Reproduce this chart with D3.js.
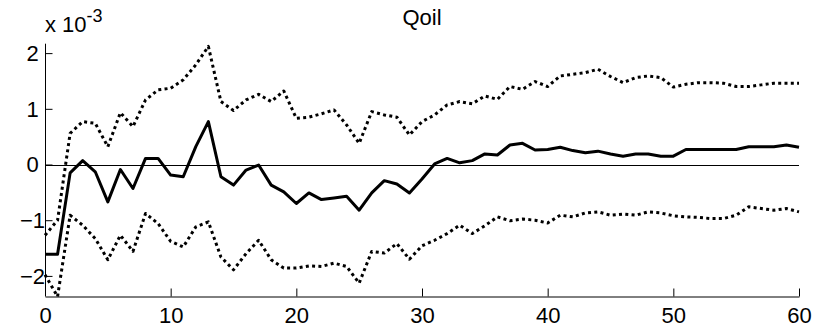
<!DOCTYPE html>
<html>
<head>
<meta charset="utf-8">
<script src="https://cdn.jsdelivr.net/npm/d3@7"></script>
<style>
  html, body { margin: 0; padding: 0; background: #fff; }
  svg { display: block; font-family: Arial, "Liberation Sans", sans-serif; }
</style>
</head>
<body>
<svg id="chart" width="825" height="329"></svg>
<script>
// Horizon (periods)
const periods = d3.range(0, 61);
// Median response, in units of 10^-3
const median = [-1.61, -1.61, -0.15, 0.07, -0.13, -0.67, -0.09, -0.43, 0.11, 0.11,
  -0.19, -0.22, 0.32, 0.77, -0.22, -0.37, -0.10, -0.01, -0.37, -0.49,
  -0.70, -0.51, -0.63, -0.60, -0.57, -0.82, -0.51, -0.29, -0.35, -0.51,
  -0.26, 0.01, 0.11, 0.03, 0.07, 0.19, 0.17, 0.35, 0.38, 0.26,
  0.27, 0.31, 0.25, 0.21, 0.24, 0.19, 0.15, 0.19, 0.19, 0.15,
  0.15, 0.27, 0.27, 0.27, 0.27, 0.27, 0.32, 0.32, 0.32, 0.35, 0.31];
// Upper band, in units of 10^-3
const upper = [-1.27, -1.0, 0.56, 0.77, 0.74, 0.32, 0.93, 0.68, 1.16, 1.34,
  1.37, 1.52, 1.79, 2.12, 1.13, 0.97, 1.16, 1.26, 1.13, 1.32,
  0.83, 0.85, 0.91, 0.98, 0.71, 0.38, 0.95, 0.89, 0.85, 0.53,
  0.77, 0.89, 1.07, 1.13, 1.09, 1.23, 1.17, 1.40, 1.35, 1.49,
  1.40, 1.59, 1.62, 1.65, 1.71, 1.58, 1.47, 1.56, 1.59, 1.56,
  1.39, 1.44, 1.47, 1.47, 1.46, 1.40, 1.40, 1.43, 1.46, 1.46, 1.46];
// Lower band, in units of 10^-3
const lower = [-1.98, -2.37, -0.91, -1.09, -1.33, -1.71, -1.27, -1.56, -0.88, -1.06,
  -1.38, -1.48, -1.12, -1.03, -1.66, -1.89, -1.60, -1.36, -1.71, -1.86,
  -1.86, -1.82, -1.83, -1.77, -1.83, -2.13, -1.56, -1.59, -1.42, -1.70,
  -1.46, -1.36, -1.24, -1.09, -1.24, -1.10, -0.94, -1.01, -0.98, -1.00,
  -1.05, -0.91, -0.94, -0.87, -0.85, -0.91, -0.89, -0.91, -0.85, -0.87,
  -0.92, -0.94, -0.95, -0.97, -0.97, -0.91, -0.76, -0.79, -0.82, -0.79, -0.85];
const xTicks = [0, 10, 20, 30, 40, 50, 60];
const yTicks = [-2, -1, 0, 1, 2];
const title = "Qoil";

const svg = d3.select("#chart");
const mLeft = 45, mRight = 799, mTop = 43.7, mBottom = 296.3;
const x = d3.scaleLinear().domain([0, 60]).range([mLeft, mRight]);
const y = d3.scaleLinear().domain([-2.366, 2.169]).range([mBottom, mTop]);
const fs = 22;
const fmt = d => (d < 0 ? "\u2212" + Math.abs(d) : String(d));

// zero line
svg.append("line")
  .attr("x1", x(0)).attr("x2", x(60))
  .attr("y1", Math.round(y(0)) + 0.5).attr("y2", Math.round(y(0)) + 0.5)
  .attr("stroke", "#000").attr("stroke-width", 1);

const line = (arr) => d3.line().x((d, i) => x(periods[i])).y(d => y(d))(arr);

svg.append("path").attr("d", line(upper)).attr("fill", "none")
  .attr("stroke", "#000").attr("stroke-width", 3).attr("stroke-dasharray", "3,3.3")
  .attr("stroke-linejoin", "round");
svg.append("path").attr("d", line(lower)).attr("fill", "none")
  .attr("stroke", "#000").attr("stroke-width", 3).attr("stroke-dasharray", "3,3.3")
  .attr("stroke-linejoin", "round");
svg.append("path").attr("d", line(median)).attr("fill", "none")
  .attr("stroke", "#000").attr("stroke-width", 3).attr("stroke-linejoin", "round");

// axes
const xAxis = d3.axisBottom(x).tickValues(xTicks).tickFormat(fmt).tickSizeInner(-8).tickSizeOuter(0);
const gx = svg.append("g").attr("transform", `translate(0,${Math.round(mBottom) + 0.5})`).call(xAxis);
const yAxis = d3.axisLeft(y).tickValues(yTicks).tickFormat(fmt).tickSizeInner(-7).tickSizeOuter(0);
const gy = svg.append("g").attr("transform", `translate(${mLeft + 0.5},0)`).call(yAxis);
[gx, gy].forEach(g => {
  g.select(".domain").attr("stroke", "#000");
  g.selectAll(".tick line").attr("stroke", "#000");
  g.selectAll(".tick text").attr("fill", "#000").attr("font-size", fs)
    .attr("font-family", "Arial, 'Liberation Sans', sans-serif");
});
gy.select(".domain").attr("d", `M0,${mTop}V${Math.round(mBottom)}`);
gx.selectAll(".tick text").attr("dy", "0.71em").attr("y", 11);
gy.selectAll(".tick text").attr("text-anchor", "middle").attr("x", -13).attr("dy", "0.34em");

// title
svg.append("text").attr("x", (mLeft + mRight) / 2).attr("y", 25).attr("text-anchor", "middle")
  .attr("font-size", 22).attr("fill", "#000").text(title);

// exponent label
const ex = svg.append("text").attr("x", mLeft).attr("y", 32).attr("font-size", fs).attr("fill", "#000");
ex.append("tspan").text("x 10");
ex.append("tspan").attr("dy", -10).attr("font-size", 18).text("-3");
</script>
</body>
</html>
